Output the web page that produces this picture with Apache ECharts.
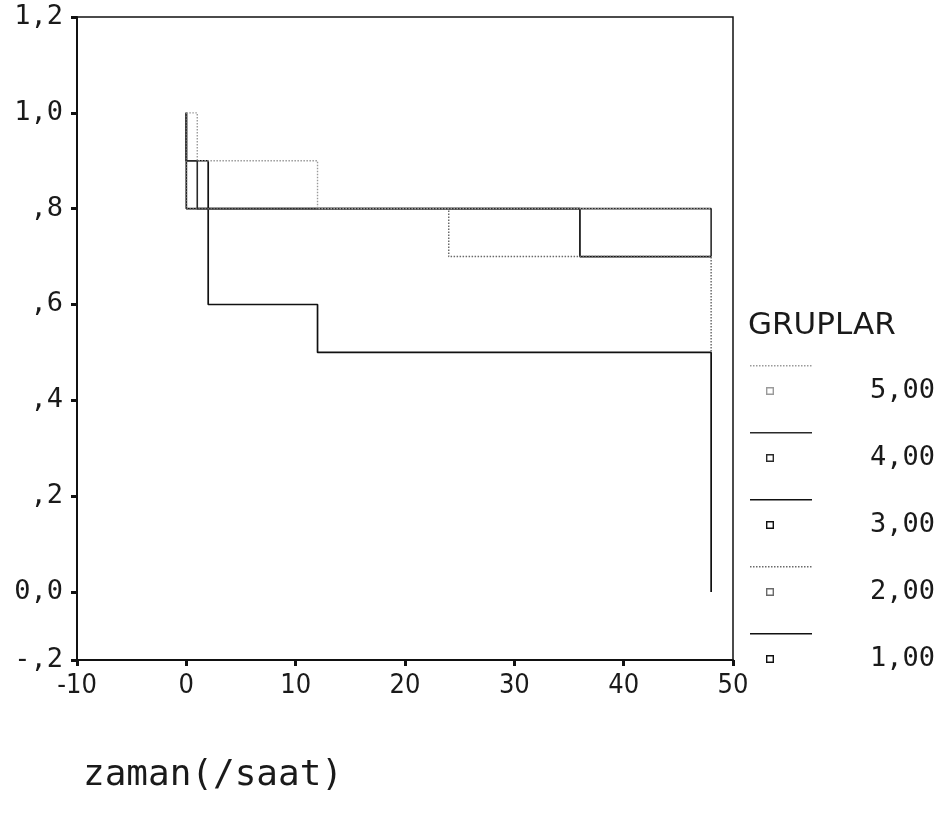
<!DOCTYPE html>
<html>
<head>
<meta charset="utf-8">
<script src="https://cdn.jsdelivr.net/npm/echarts@6/dist/echarts.min.js"></script>
<style>
  html, body { margin: 0; padding: 0; background: #fff; }
  #chart { width: 950px; height: 825px; }
</style>
</head>
<body>
<div id="chart"></div>
<script>
// Kaplan-Meier steps: event times (hours) and cumulative survival per group
const g1Time = [0, 0, 2, 12, 48];
const g1Surv = [1.0, 0.9, 0.6, 0.5, 0.0];
const g2Time = [0, 0, 24, 48];
const g2Surv = [1.0, 0.8, 0.7, 0.5];
const g3Time = [0, 0, 36, 48];
const g3Surv = [1.0, 0.8, 0.7, 0.7];
const g4Time = [0, 0, 1, 48];
const g4Surv = [1.0, 0.9, 0.8, 0.7];
const g5Time = [0, 1, 12, 48];
const g5Surv = [1.0, 0.9, 0.8, 0.8];

const groupNames = ['5,00', '4,00', '3,00', '2,00', '1,00'];
const yTickValues = [0, 0.2, 0.4, 0.6, 0.8, 1.0, 1.2];
const yTickLabels = ['0,0', ',2', ',4', ',6', ',8', '1,0', '1,2'];
const yBottom = -0.142;          // lower end of the printed axis
const yBottomLabel = '-,2';
const xTickLabels = ['-10', '0', '10', '20', '30', '40', '50'];

const MONO = '"DejaVu Sans Mono", "Liberation Mono", monospace';
const NARROW = '"Liberation Sans Narrow", "DejaVu Sans Condensed", "Liberation Sans", sans-serif';

function steps(t, s) { return t.map((x, i) => [x, s[i]]); }

// legend glyph: a line sample on top, a small hollow square under it
function legendIcon(dotted) {
  const r = (x, y, w, h) => `M${x} ${y}h${w}v${h}h${-w}Z`;
  const parts = [];
  if (dotted) {
    for (let x = 0; x < 62; x += 3) parts.push(r(x, 0, 1.5, 1.5));
  } else {
    parts.push(r(0, 0, 62, 1.5));
  }
  parts.push(r(16, 22, 8, 1.4), r(16, 28.6, 8, 1.4), r(16, 22, 1.4, 8), r(22.6, 22, 1.4, 8));
  // tiny anchor that fixes the glyph box size
  parts.push(r(114.95, 51.95, 0.05, 0.05));
  return 'path://' + parts.join('');
}

const styles = {
  '5,00': { color: '#9a9a9a', type: [1.5, 1.5], dotted: true, width: 1.4 },
  '4,00': { color: '#2a2a2a', type: 'solid', dotted: false, width: 1.6 },
  '3,00': { color: '#111111', type: 'solid', dotted: false, width: 1.7 },
  '2,00': { color: '#6a6a6a', type: [1.5, 1.5], dotted: true, width: 1.5 },
  '1,00': { color: '#111111', type: 'solid', dotted: false, width: 1.7 }
};

function makeSeries(name, t, s) {
  const st = styles[name];
  return {
    name: name,
    type: 'line',
    step: 'end',
    symbol: 'none',
    data: steps(t, s),
    lineStyle: { color: st.color, width: st.width, type: st.type },
    itemStyle: { color: st.color },
    emphasis: { disabled: true },
    silent: true
  };
}

const yTickAll = [yBottom].concat(yTickValues);

const chart = echarts.init(document.getElementById('chart'), null, { renderer: 'canvas' });

chart.setOption({
  animation: false,
  backgroundColor: '#fff',
  title: {
    text: 'GRUPLAR',
    left: 743,
    top: 305,
    textStyle: { fontFamily: '"DejaVu Sans", sans-serif', fontSize: 31, fontWeight: 'normal', color: '#1a1a1a' }
  },
  legend: {
    orient: 'vertical',
    left: 750,
    top: 365,
    itemWidth: 115,
    itemHeight: 52,
    itemGap: 15,
    padding: 0,
    selectedMode: false,
    itemStyle: { borderWidth: 0 },
    textStyle: { fontFamily: MONO, fontSize: 27, color: '#1a1a1a', padding: [9, 0, 0, 0] },
    data: groupNames.map(n => ({
      name: n,
      icon: legendIcon(styles[n].dotted),
      itemStyle: { color: styles[n].color, borderWidth: 0 }
    }))
  },
  grid: {
    left: 77,
    right: 217,
    top: 17,
    bottom: 165,
    show: true,
    borderColor: '#111',
    borderWidth: 1.5,
    backgroundColor: 'transparent'
  },
  xAxis: {
    type: 'value',
    min: -10,
    max: 50,
    interval: 10,
    splitLine: { show: false },
    axisLine: { show: true, onZero: false, lineStyle: { color: '#111', width: 2 } },
    axisTick: { show: true, length: 6, lineStyle: { color: '#111', width: 3 } },
    axisLabel: {
      margin: 12,
      fontFamily: NARROW,
      fontSize: 27,
      color: '#1a1a1a',
      formatter: v => xTickLabels[Math.round((v + 10) / 10)]
    },
    name: 'zaman(/saat)',
    nameLocation: 'middle',
    nameGap: 98,
    nameTextStyle: { fontFamily: MONO, fontSize: 36, color: '#1a1a1a', padding: [0, 384, 0, 0] }
  },
  yAxis: {
    type: 'value',
    min: yBottom,
    max: 1.2,
    splitLine: { show: false },
    axisLine: { show: true, onZero: false, lineStyle: { color: '#111', width: 2 } },
    axisTick: { show: true, length: 6, customValues: yTickAll, lineStyle: { color: '#111', width: 3 } },
    axisLabel: {
      margin: 14,
      fontFamily: MONO,
      fontSize: 27,
      color: '#1a1a1a',
      customValues: yTickAll,
      formatter: v => (v < -0.05 ? yBottomLabel : yTickLabels[Math.round(v / 0.2)])
    }
  },
  series: [
    makeSeries('1,00', g1Time, g1Surv),
    makeSeries('3,00', g3Time, g3Surv),
    makeSeries('4,00', g4Time, g4Surv),
    makeSeries('2,00', g2Time, g2Surv),
    makeSeries('5,00', g5Time, g5Surv)
  ]
});
</script>
</body>
</html>
